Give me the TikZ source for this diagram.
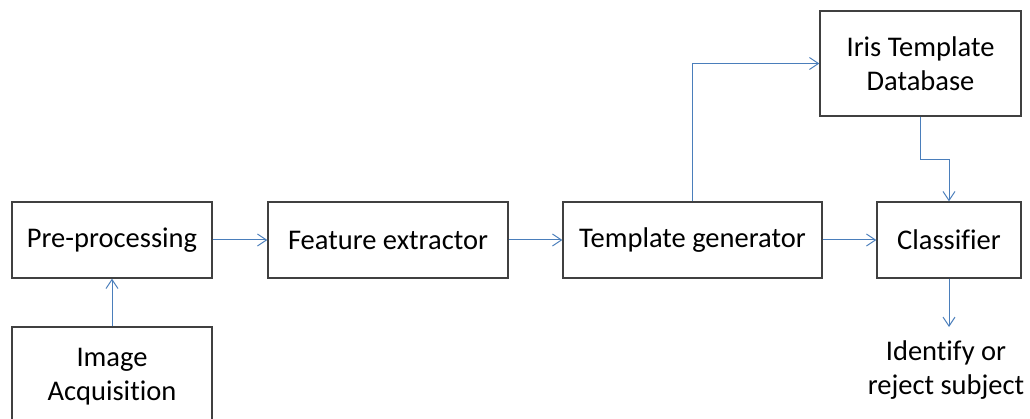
\documentclass[tikz,border=0pt]{standalone}
\usepackage{fontspec}
\setmainfont{Carlito}[Ligatures={NoCommon}]
\usetikzlibrary{arrows.meta}
\definecolor{boxline}{HTML}{404040}
\definecolor{conn}{HTML}{4A7EBB}
\tikzset{
  blk/.style={draw=boxline, line width=1.3pt, inner sep=0pt, align=center,
    font=\fontsize{28.5}{34}\selectfont},
  lbl/.style={inner sep=0pt, align=center, font=\fontsize{28.5}{34}\selectfont},
  conn/.style={draw=conn, line width=1pt, -{Straight Barb[length=9pt,width=12pt,line width=1pt]}},
}
\begin{document}
\begin{tikzpicture}[x=1pt,y=-1pt]
\useasboundingbox (0,0) rectangle (1030,419);
\clip (0,0) rectangle (1030,419);
\node[blk, minimum width=200pt, minimum height=76pt] (pre) at (112,240) {Pre-processing};
\node[blk, minimum width=200pt, minimum height=99pt] (img) at (112,376.5) {Image\\Acquisition};
\node[blk, minimum width=240pt, minimum height=76pt] (fe) at (388,240) {Feature extractor};
\node[blk, minimum width=259pt, minimum height=76pt] (tg) at (692.5,240) {Template generator};
\node[blk, minimum width=144pt, minimum height=76pt] (cls) at (949,240) {Classifier};
\node[blk, minimum width=201pt, minimum height=105pt] (db) at (920.5,63.5) {Iris Template\\Database};
\node[lbl, anchor=north] (out) at (946,341) {Identify or\\reject subject};
\draw[conn] (img.north) -- (pre.south);
\draw[conn] (pre.east) -- (fe.west);
\draw[conn] (fe.east) -- (tg.west);
\draw[conn] (tg.east) -- (cls.west);
\draw[conn] (tg.north) |- (db.west);
\draw[conn] (db.south) -- ++(0,43) -| (cls.north);
\coordinate (outtop) at (cls.south |- 0,327);
\draw[conn] (cls.south) -- (outtop);
\end{tikzpicture}
\end{document}
